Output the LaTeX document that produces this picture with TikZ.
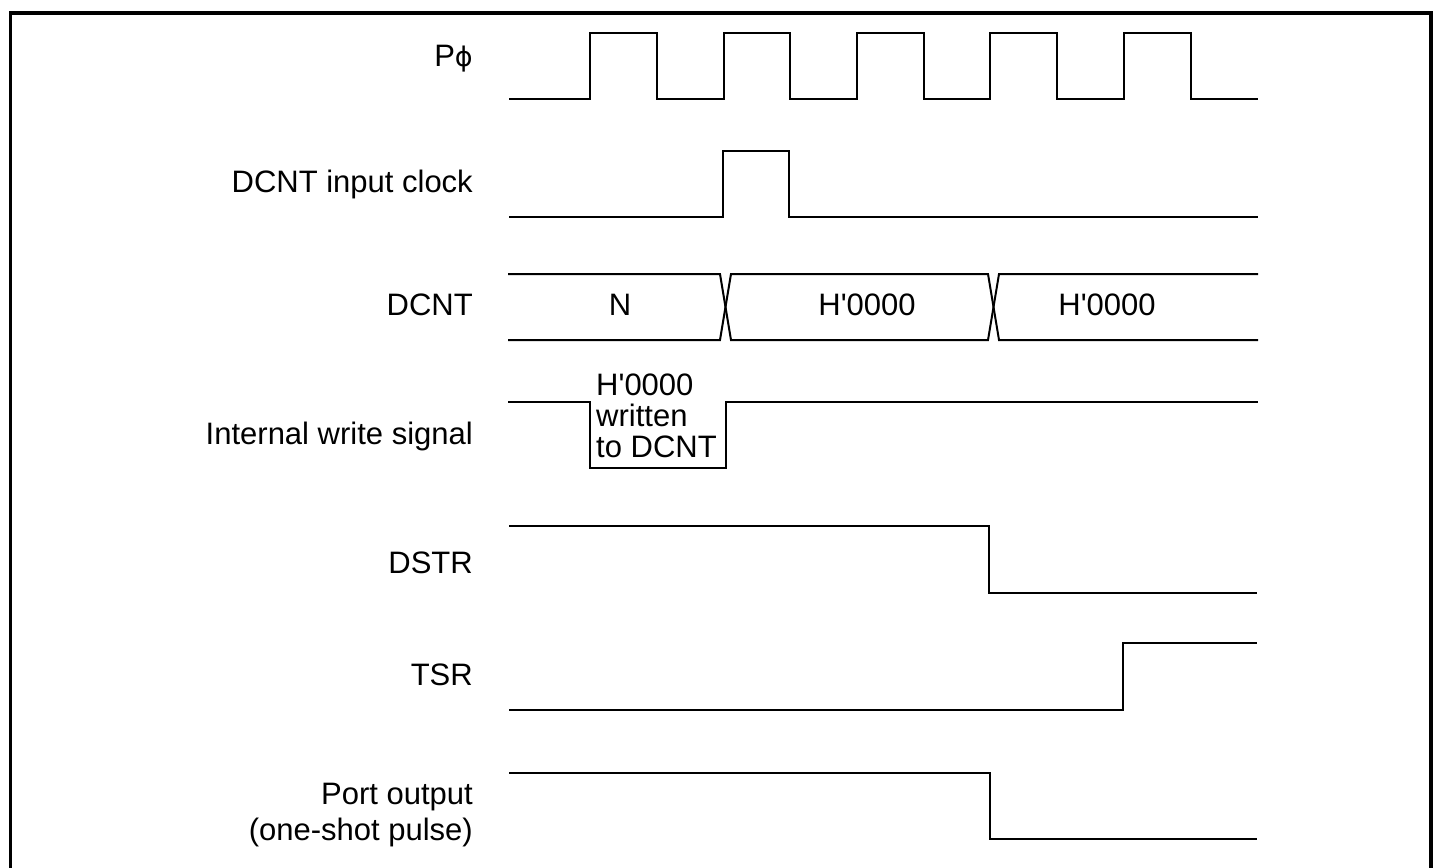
\documentclass[tikz,border=0pt]{standalone}
\usepackage{fontspec}
\setmainfont{Liberation Sans}
\newfontfamily\phifont{DejaVu Sans}
\begin{document}
\begin{tikzpicture}[x=1pt,y=-1pt,
  wave/.style={line width=2pt, line join=miter},
  frame/.style={line width=3.5pt},
  lbl/.style={anchor=base east, inner sep=0pt, font=\fontsize{31}{32}\selectfont},
  val/.style={anchor=base, inner sep=0pt, font=\fontsize{31}{32}\selectfont},
  note/.style={anchor=base west, inner sep=0pt, font=\fontsize{31}{32}\selectfont}]
\useasboundingbox (0,0) rectangle (1442,867);
\draw[frame] (10.7,890) -- (10.7,13) -- (1431,13) -- (1431,890);

% labels
\node[lbl] (lphi) at (473,66.7) {P{\phifont\fontsize{27}{28}\selectfont ϕ}};
\node[lbl] (lclk) at (473,192.7) {DCNT input clock};
\node[lbl] (ldcnt) at (473,315) {DCNT};
\node[lbl] (lwr) at (473,444) {Internal write signal};
\node[lbl] (ldstr) at (473,573) {DSTR};
\node[lbl] (ltsr) at (473,685) {TSR};
\node[lbl] (lport) at (473,804) {Port output};
\node[lbl] (lpulse) at (473,840) {(one-shot pulse)};

% P phi
\draw[wave] (509,99)
  \foreach \r in {590,723.5,857,990,1124} { -- (\r,99) -- (\r,33) -- (\r+66.7,33) -- (\r+66.7,99) }
  -- (1258,99);

% DCNT input clock
\draw[wave] (509,217) -- (723,217) -- (723,151) -- (789,151) -- (789,217) -- (1258,217);

% DCNT bus
\draw[wave] (508,274) -- (720,274) -- (731,340) -- (988,340) -- (999,274) -- (1258,274);
\draw[wave] (508,340) -- (720,340) -- (731,274) -- (988,274) -- (999,340) -- (1258,340);
\node[val] (vn) at (620,315) {N};
\node[val] (v1) at (867,315) {H\textquotesingle0000};
\node[val] (v2) at (1107,315) {H\textquotesingle0000};

% Internal write signal
\draw[wave] (508,402) -- (590,402) -- (590,468) -- (726,468) -- (726,402) -- (1258,402);
\node[note] (w1) at (596,395) {H\textquotesingle0000};
\node[note] (w2) at (596,426) {written};
\node[note] (w3) at (596,457) {to DCNT};

% DSTR
\draw[wave] (509,526) -- (989,526) -- (989,592.5) -- (1257,592.5);
% TSR
\draw[wave] (509,709.5) -- (1123,709.5) -- (1123,643) -- (1257,643);
% Port output
\draw[wave] (509,773) -- (990,773) -- (990,839) -- (1257,839);
\end{tikzpicture}
\end{document}
